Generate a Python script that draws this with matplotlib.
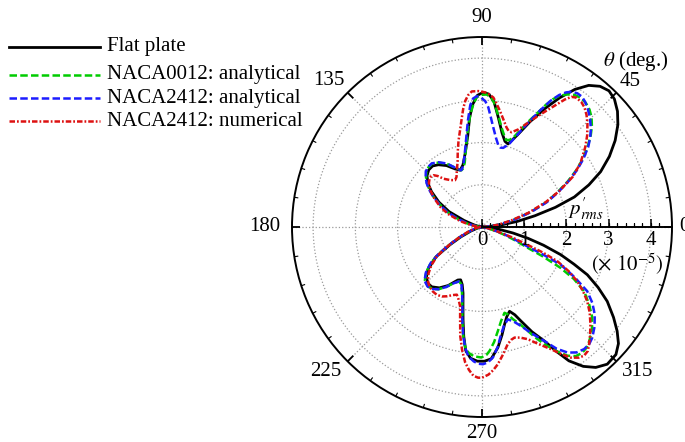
import numpy as np
import matplotlib
matplotlib.use("Agg")
import matplotlib.pyplot as plt
from matplotlib.lines import Line2D
from matplotlib import markers

plt.rcParams['font.family'] = ['Liberation Serif', 'DejaVu Serif']
plt.rcParams['mathtext.fontset'] = 'stix'

# --------------------------
# directivity data (theta in deg., p'rms in 1e-5)
# --------------------------

flat_theta = [0, 3, 6, 9, 12, 15, 18, 21.5, 25, 29, 33, 37, 40.5, 44, 47, 50, 53, 56, 59, 62,
              65.5, 69, 72.6, 75, 78, 81.5, 84.5, 87, 89.5, 92, 94.5, 96.5, 99, 103, 107, 111,
              115, 120, 125, 129, 133, 137, 141, 145, 150, 155, 160, 165, 170, 180,
              190, 200, 205, 209, 213, 218, 222, 226, 230, 235, 240, 245.5, 248, 251, 254,
              256.5, 258.5, 260.5, 262.5, 265, 268, 271, 274, 277.5, 280.5, 283, 285.5, 288.1,
              290.5, 292.5, 295.5, 298.7, 301, 303, 306, 309, 312.4, 316.4, 319.5, 322.4,
              325.5, 329.3, 332.5, 335.6, 338, 340.6, 343.5, 346.2, 349, 352, 356, 360]
flat_r = [0, 0.12, 0.45, 0.85, 1.28, 1.8, 2.3, 2.72, 3.1, 3.45, 3.76, 4.03, 4.22, 4.36, 4.41,
          4.35, 4.2, 3.93, 3.57, 3.18, 2.74, 2.33, 2.06, 2.1, 2.28, 2.62, 2.98, 3.15, 3.19,
          3.12, 2.9, 2.6, 2.17, 1.78, 1.54, 1.44, 1.52, 1.68, 1.8, 1.86, 1.85, 1.78, 1.65,
          1.46, 1.18, 0.86, 0.45, 0.2, 0.08, 0,
          0.08, 0.28, 0.55, 0.87, 1.3, 1.62, 1.77, 1.85, 1.85, 1.76, 1.6, 1.38, 1.35, 1.44,
          1.63, 1.93, 2.25, 2.62, 2.95, 3.12, 3.18, 3.18, 3.13, 2.88, 2.6, 2.37, 2.2, 2.1,
          2.22, 2.41, 2.75, 3.08, 3.45, 3.78, 4.08, 4.28, 4.4, 4.38, 4.25, 4.04,
          3.78, 3.45, 3.1, 2.74, 2.35, 1.98, 1.52, 1.12, 0.75, 0.42, 0.12, 0]

n0012_theta = [0, 4, 8, 12.5, 17, 21, 24.5, 28, 31, 34, 37.1, 40, 42.5, 45, 47.5, 50, 52.5, 55,
               57.6, 59.5, 61, 62.5, 64.3, 66.5, 68.6, 70.5, 72.5, 74.5, 76.5, 78.9, 81, 82.8,
               84.5, 86, 88, 90.5, 92.5, 94.3, 96, 98, 100, 102.5, 105, 107.5, 110, 114, 119,
               124, 128.3, 132, 135.4, 138.5, 141.7, 145, 148.1, 152, 156.6, 161, 166.4, 170,
               175, 180,
               187, 195, 200, 205, 209, 212, 215, 219, 223, 227.5, 231, 235, 239, 243, 247,
               250, 253, 256, 258, 260, 262, 264, 266.5, 269.7, 272, 273.5, 276, 278.7, 281.5,
               284.7, 286.5, 288.5, 290.5, 292.8, 295.5, 298, 301, 303.6, 306, 308.5, 311,
               313.5, 317, 320.6, 324, 327.8, 330.5, 332.5, 334.2, 335.5, 338, 341, 344, 348,
               353, 360]
n0012_r = [0, 0.12, 0.42, 0.75, 1.2, 1.62, 1.95, 2.3, 2.6, 2.88, 3.13, 3.36, 3.53, 3.67, 3.77,
           3.83, 3.85, 3.82, 3.72, 3.6, 3.46, 3.25, 2.97, 2.7, 2.45, 2.26, 2.16, 2.14, 2.24,
           2.4, 2.6, 2.78, 2.96, 3.08, 3.14, 3.13, 3.07, 2.88, 2.67, 2.37, 2.08, 1.8, 1.58,
           1.46, 1.43, 1.53, 1.71, 1.84, 1.91, 1.9, 1.85, 1.77, 1.66, 1.51, 1.35, 1.13, 0.9,
           0.62, 0.37, 0.2, 0.06, 0,
           0.05, 0.2, 0.35, 0.62, 0.92, 1.22, 1.48, 1.7, 1.85, 1.9, 1.88, 1.8, 1.66, 1.5, 1.4,
           1.44, 1.62, 1.93, 2.25, 2.58, 2.87, 3.0, 3.07, 3.09, 3.03, 2.94, 2.74, 2.49, 2.27,
           2.1, 2.16, 2.3, 2.42, 2.59, 2.88, 3.14, 3.43, 3.66, 3.78, 3.81, 3.78,
           3.7, 3.56, 3.38, 3.14, 2.86, 2.5, 2.1, 1.6, 1.19, 0.85, 0.55, 0.3, 0.12,
           0.03, 0]

n2412_theta = [0, 4, 8, 12.5, 17, 21, 24.5, 28, 31, 34, 37, 39.5, 42, 45, 48, 50.5, 52.5, 54.5,
               56.5, 58, 59.7, 61.5, 63.6, 66, 69.3, 72, 75, 77, 78.8, 81, 83.6, 85.5, 87, 88.5,
               90.5, 92.3, 94, 95.5, 97.5, 99.5, 101.5, 104, 107, 110, 114, 119, 124, 128.3,
               132, 135.4, 138.5, 141.7, 145, 148.1, 152, 156.6, 161, 166.4, 170, 175, 180,
               187, 195, 200, 205, 209, 212, 215, 219, 223, 227.5, 231, 235, 239, 243, 247,
               250, 253, 256, 258, 260, 262, 264, 266.5, 268.5, 270.4, 272.5, 274.8, 277.5,
               280.1, 282.5, 285.6, 288.5, 291.5, 295, 298.7, 301.5, 304.3, 307, 309.9, 312.5,
               314.9, 318.5, 322.2, 325.5, 328.6, 331.5, 334.4, 335.7, 336.8, 339, 342, 345,
               349, 354, 360]
n2412_r = [0, 0.12, 0.42, 0.78, 1.22, 1.65, 1.98, 2.33, 2.63, 2.9, 3.15, 3.32, 3.47, 3.62, 3.75,
           3.84, 3.89, 3.89, 3.84, 3.76, 3.62, 3.4, 3.07, 2.72, 2.31, 2.06, 1.94, 1.93, 1.98,
           2.13, 2.38, 2.62, 2.84, 2.98, 3.07, 3.1, 3.05, 2.9, 2.55, 2.22, 1.96, 1.72, 1.52,
           1.43, 1.53, 1.72, 1.85, 1.92, 1.91, 1.87, 1.78, 1.67, 1.52, 1.36, 1.14, 0.9, 0.62,
           0.36, 0.2, 0.06, 0,
           0.05, 0.2, 0.35, 0.62, 0.92, 1.22, 1.48, 1.71, 1.86, 1.91, 1.89, 1.8, 1.66, 1.5, 1.4,
           1.43, 1.61, 1.92, 2.25, 2.58, 2.88, 3.08, 3.19, 3.24, 3.25, 3.21, 3.1, 2.86,
           2.58, 2.4, 2.27, 2.36, 2.52, 2.78, 3.08, 3.38, 3.6, 3.72, 3.77, 3.76,
           3.7, 3.56, 3.38, 3.17, 2.92, 2.5, 2.07, 1.6, 1.18, 0.85, 0.55, 0.3,
           0.12, 0.03, 0]

n2412num_theta = [0, 4, 8, 12.5, 17, 21.4, 25, 28.9, 33, 37.7, 41, 44.3, 47, 49.4, 51.5, 54,
                  55.5, 57, 58.8, 61, 63.5, 66.7, 69.5, 72.7, 74.5, 76.2, 78.5, 81.3, 83.5, 85,
                  87, 88.7, 91.5, 94.3, 96, 97.6, 99, 100.4, 102.5, 105.2, 108, 110.5, 113.9,
                  117, 119.9, 124, 128.5, 131, 133.1, 135.5, 137.3, 140.5, 144.6, 149, 154.2,
                  159, 164.5, 168, 172, 176, 180,
                  184, 190, 198, 203, 207.1, 210, 213.2, 217, 220.8, 224.5, 228.6, 232.5, 236.3,
                  240, 243.1, 246.5, 249.6, 252, 254.6, 256.5, 258.7, 260.8, 262.9, 264.8, 266.7,
                  268.5, 270, 272.5, 274.5, 276.6, 279.5, 282.4, 284.5, 286.4, 289, 292.2, 295.5,
                  299.4, 302, 304.2, 306.5, 308.4, 310.5, 312.4, 315, 318.1, 321.5, 324.8, 327.5,
                  330.3, 333, 335.5, 337.2, 338.6, 341, 343.7, 347, 352, 360]
n2412num_r = [0, 0.1, 0.38, 0.7, 1.15, 1.63, 2.02, 2.45, 2.78, 3.09, 3.3, 3.49, 3.63, 3.73, 3.78,
              3.79, 3.74, 3.6, 3.38, 3.15, 2.92, 2.66, 2.47, 2.35, 2.36, 2.43, 2.58, 2.79, 2.96,
              3.08, 3.15, 3.19, 3.22, 3.22, 3.14, 3.01, 2.84, 2.64, 2.38, 2.12, 1.86, 1.65, 1.47,
              1.33, 1.28, 1.34, 1.46, 1.6, 1.68, 1.7, 1.69, 1.63, 1.5, 1.32, 1.1,
              0.86, 0.55, 0.35, 0.2, 0.08, 0.02,
              0.06, 0.15, 0.32, 0.52, 0.76, 1.0, 1.28, 1.5, 1.67, 1.8, 1.88, 1.92, 1.93,
              1.9, 1.84, 1.76, 1.71, 1.8, 1.95, 2.22, 2.63, 2.95, 3.23, 3.4, 3.53,
              3.57, 3.57, 3.5, 3.4, 3.27, 3.05, 2.84, 2.76, 2.73, 2.77, 2.87, 3.06,
              3.32, 3.55, 3.74, 3.85, 3.89, 3.86, 3.76, 3.62, 3.45, 3.26, 3.05, 2.84,
              2.6, 2.3, 1.97, 1.58, 1.16, 0.75, 0.39, 0.2, 0.08, 0]

series_labels = ["Flat plate", "NACA0012: analytical", "NACA2412: analytical", "NACA2412: numerical"]
angle_ticks = [0, 45, 90, 135, 180, 225, 270, 315]
radial_ticks = [0, 1, 2, 3, 4]
r_max = 4.5

# --------------------------
# styles
# --------------------------
W, H = 685, 442
FS = 15

styles = [
    dict(color='black', lw=2.0, ls='-'),
    dict(color='#00cc00', lw=1.8, dashes=(3.0, 1.3)),
    dict(color='#1c1cff', lw=1.8, dashes=(3.0, 1.3)),
    dict(color='#dd1111', lw=1.8, dashes=(2.2, 0.8, 0.7, 0.8)),
]

# label offsets in px from circle edge (dx, dy up)
angle_offsets = {0: (7, 0), 45: (14, 11), 90: (0, 19), 135: (-19, 12),
                 180: (-27, 0), 225: (-22, -10), 270: (0, -16), 315: (21, -10)}


def fig_xy(x, y):
    return x / W, 1 - y / H


fig = plt.figure(figsize=(W / 100, H / 100), dpi=100)
cx, cy, rad = 482, 227, 190
ax = fig.add_axes([(cx - rad) / W, (H - cy - rad) / H, 2 * rad / W, 2 * rad / H], projection='polar')

all_data = [(flat_theta, flat_r), (n0012_theta, n0012_r),
            (n2412_theta, n2412_r), (n2412num_theta, n2412num_r)]
for (th, r), st in zip(all_data, styles):
    ax.plot(np.radians(th), r, zorder=3, solid_joinstyle='round', **st)

ax.set_ylim(0, r_max)
ax.set_yticks([1, 2, 3, 4])
ax.set_yticklabels([])
ax.set_xticks(np.radians(angle_ticks))
ax.set_xticklabels([])
ax.tick_params(axis='both', length=0)
ax.grid(True, which='major', color='#9a9a9a', linestyle=':', linewidth=0.9)
ax.spines['polar'].set_linewidth(1.4)

# ticks on the outer ring (every 9 deg, longer every 45 deg)
minor = [a for a in range(0, 360, 9) if a % 45 != 0]
ax.vlines(np.radians(minor), r_max - 4 / 42.2, r_max, color='black', lw=0.8, zorder=4)
ax.vlines(np.radians(angle_ticks), r_max - 8 / 42.2, r_max, color='black', lw=1.3, zorder=4)

# angle labels
for a in angle_ticks:
    dx, dy = angle_offsets[a]
    ha = 'left' if a == 0 else 'center'
    ax.annotate(str(a), xy=(np.radians(a), r_max), xytext=(dx * 0.72, dy * 0.72),
                textcoords='offset points', ha=ha, va='center', fontsize=FS,
                annotation_clip=False)

# radial axis along 0 deg
ax.plot([0, 0], [0, r_max], color='black', lw=1.4, zorder=4, clip_on=False)
ax.plot(np.zeros(22), np.arange(22) * 0.2, ls='none', marker=markers.TICKUP,
        ms=3, mew=0.9, color='black', zorder=4)
ax.plot(np.zeros(len(radial_ticks)), radial_ticks, ls='none', marker=markers.TICKUP,
        ms=5.5, mew=1.1, color='black', zorder=4)
for k in radial_ticks:
    ax.annotate(str(k), xy=(0, k), xytext=(0, -3), textcoords='offset points',
                ha='center', va='top', fontsize=FS)

ax.annotate(r'$(\times\ 10^{-5})$', xy=(0, 3.45), xytext=(0, -27),
            textcoords='offset points', ha='center', va='center', fontsize=FS)
ax.annotate(r"$p^{\prime}_{rms}$", xy=(0, 2.46), xytext=(0, 13),
            textcoords='offset points', ha='center', va='center', fontsize=FS)
fig.text(*fig_xy(636, 61), r'$\theta$ (deg.)', ha='center', va='center', fontsize=FS)

# legend drawn by hand
legend_y = [47, 75, 98, 121]
for lab, st, y in zip(series_labels, styles, legend_y):
    x0, y0 = fig_xy(9, y)
    x1, _ = fig_xy(100, y)
    fig.add_artist(Line2D([x0, x1], [y0, y0], transform=fig.transFigure, **st))
    fig.text(x1 + 7 / W, y0, lab, ha='left', va='center', fontsize=FS)

fig.savefig("out.png", dpi=100)
